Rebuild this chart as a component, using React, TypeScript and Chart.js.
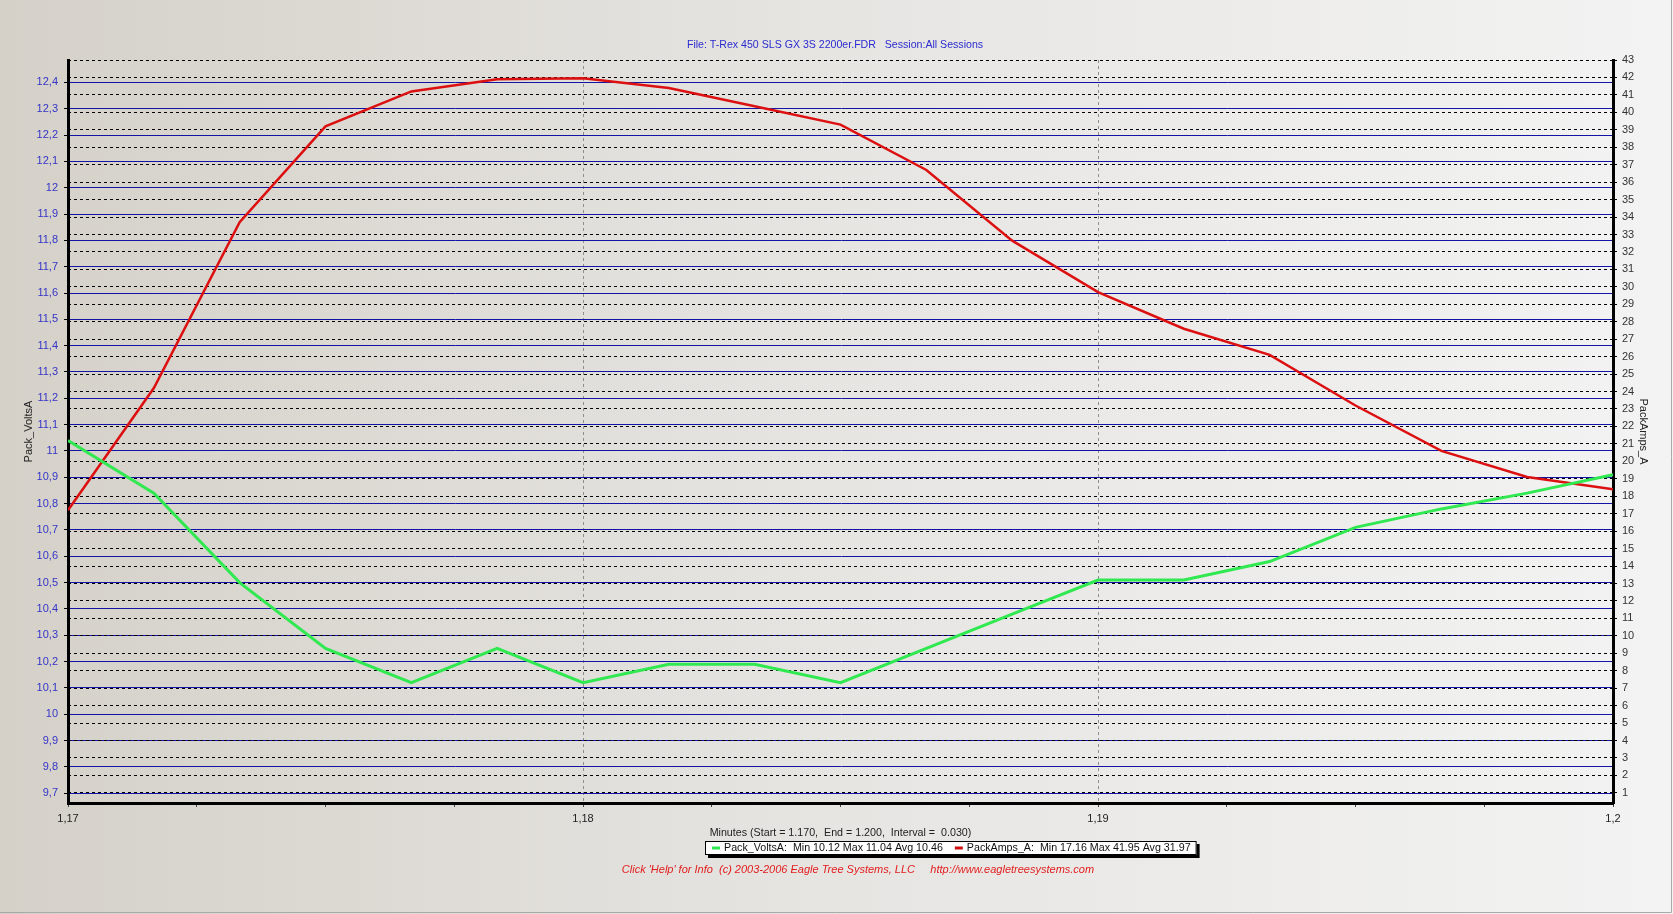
import React, { useEffect, useRef } from "react";
import { Chart, registerables } from "chart.js";

Chart.register(...registerables);

// ---- data ----
const minutes = [
  1.17, 1.171667, 1.173333, 1.175, 1.176667, 1.178333, 1.18, 1.181667, 1.183333, 1.185,
  1.186667, 1.188333, 1.19, 1.191667, 1.193333, 1.195, 1.196667, 1.198333, 1.2,
];
const packVoltsA = [
  11.04, 10.84, 10.5, 10.25, 10.12, 10.25, 10.12, 10.19, 10.19, 10.12,
  10.25, 10.38, 10.51, 10.51, 10.58, 10.71, 10.78, 10.84, 10.91,
];
const packAmpsA = [
  17.2, 24.2, 33.7, 39.2, 41.2, 41.9, 41.95, 41.4, 40.35, 39.3,
  36.7, 32.65, 29.7, 27.6, 26.1, 23.2, 20.6, 19.1, 18.4,
];
const voltsTicks = [
  9.7, 9.8, 9.9, 10, 10.1, 10.2, 10.3, 10.4, 10.5, 10.6, 10.7, 10.8, 10.9, 11, 11.1,
  11.2, 11.3, 11.4, 11.5, 11.6, 11.7, 11.8, 11.9, 12, 12.1, 12.2, 12.3, 12.4,
];
const ampsTicks = [
  1, 2, 3, 4, 5, 6, 7, 8, 9, 10, 11, 12, 13, 14, 15, 16, 17, 18, 19, 20, 21, 22,
  23, 24, 25, 26, 27, 28, 29, 30, 31, 32, 33, 34, 35, 36, 37, 38, 39, 40, 41, 42, 43,
];
const minuteTicks = [1.17, 1.18, 1.19, 1.2];
const minuteMinorStep = 0.0025;
const voltsRange = [9.663, 12.485];
const ampsRange = [0.42, 43];
const voltsStats = [10.12, 11.04, 10.46];
const ampsStats = [17.16, 41.95, 31.97];

const titleText = "File: T-Rex 450 SLS GX 3S 2200er.FDR   Session:All Sessions";
const xTitleText = "Minutes (Start = 1.170,  End = 1.200,  Interval =  0.030)";
const footerText =
  "Click 'Help' for Info  (c) 2003-2006 Eagle Tree Systems, LLC     http://www.eagletreesystems.com";

const FAMILY = '"Liberation Sans", Arial, Helvetica, sans-serif';
const W = 1673;
const H = 914;

const fmtComma = (v: number) => String(parseFloat(Number(v).toFixed(4))).replace(".", ",");
const isMajorMinute = (v: any) =>
  typeof v === "number" && minuteTicks.some((m) => Math.abs(m - v) < 1e-6);

const backgroundPlugin = {
  id: "bgGradient",
  beforeDraw(chart: any) {
    const ctx = chart.ctx;
    ctx.save();
    const g = ctx.createLinearGradient(0, 0, chart.width, 0);
    g.addColorStop(0, "#d5d1c9");
    g.addColorStop(0.5, "#e6e5e2");
    g.addColorStop(1, "#f3f3f3");
    ctx.fillStyle = g;
    ctx.fillRect(0, 0, chart.width, chart.height);
    ctx.restore();
  },
};

const textPlugin = {
  id: "eagleTexts",
  afterDraw(chart: any) {
    const ctx = chart.ctx;
    ctx.save();
    // main title
    ctx.font = `10.6px ${FAMILY}`;
    ctx.fillStyle = "#2b2bd0";
    ctx.textAlign = "center";
    ctx.textBaseline = "middle";
    ctx.fillText(titleText, 835, 45);

    // legend box
    const t1 = `Pack_VoltsA:  Min ${voltsStats[0].toFixed(2)} Max ${voltsStats[1].toFixed(2)} Avg ${voltsStats[2].toFixed(2)}`;
    const t2 = `PackAmps_A:  Min ${ampsStats[0].toFixed(2)} Max ${ampsStats[1].toFixed(2)} Avg ${ampsStats[2].toFixed(2)}`;
    ctx.font = `10.7px ${FAMILY}`;
    const w1 = ctx.measureText(t1).width;
    const w2 = ctx.measureText(t2).width;
    const bx = 705;
    const by = 841;
    const bh = 14;
    const bw = 7 + 8 + 4 + w1 + 12 + 8 + 4 + w2 + 6;
    ctx.fillStyle = "#000";
    ctx.fillRect(bx + 3, by + 3, bw, bh);
    ctx.fillStyle = "#ffffff";
    ctx.fillRect(bx, by, bw, bh);
    ctx.strokeStyle = "#000";
    ctx.lineWidth = 1;
    ctx.strokeRect(bx + 0.5, by + 0.5, bw - 1, bh - 1);
    let cx = bx + 7;
    const cy = by + bh / 2;
    ctx.lineWidth = 3;
    ctx.strokeStyle = "#30e850";
    ctx.beginPath();
    ctx.moveTo(cx, cy);
    ctx.lineTo(cx + 8, cy);
    ctx.stroke();
    cx += 12;
    ctx.fillStyle = "#111";
    ctx.textAlign = "left";
    ctx.fillText(t1, cx, cy + 0.5);
    cx += w1 + 12;
    ctx.strokeStyle = "#d01010";
    ctx.beginPath();
    ctx.moveTo(cx, cy);
    ctx.lineTo(cx + 8, cy);
    ctx.stroke();
    cx += 12;
    ctx.fillText(t2, cx, cy + 0.5);

    // footer
    ctx.font = `italic 11px ${FAMILY}`;
    ctx.fillStyle = "#e21c1c";
    ctx.textAlign = "center";
    ctx.fillText(footerText, 858, 870);

    // outer frame edges
    ctx.strokeStyle = "#a9a9a9";
    ctx.lineWidth = 1;
    ctx.beginPath();
    ctx.moveTo(W - 1.5, 0);
    ctx.lineTo(W - 1.5, H - 1.5);
    ctx.lineTo(0, H - 1.5);
    ctx.stroke();
    ctx.restore();
  },
};

export default function App() {
  const canvasRef = useRef<HTMLCanvasElement | null>(null);

  useEffect(() => {
    const canvas = canvasRef.current;
    if (!canvas) return;
    const font = { family: FAMILY, size: 11 };
    const chart = new Chart(canvas, {
      type: "line",
      data: {
        datasets: [
          {
            label: "Pack_VoltsA",
            data: minutes.map((m, i) => ({ x: m, y: packVoltsA[i] })),
            borderColor: "#30e850",
            borderWidth: 3,
            pointRadius: 0,
            tension: 0,
            yAxisID: "y",
          },
          {
            label: "PackAmps_A",
            data: minutes.map((m, i) => ({ x: m, y: packAmpsA[i] })),
            borderColor: "#dc1010",
            borderWidth: 2.5,
            pointRadius: 0,
            tension: 0,
            yAxisID: "y1",
          },
        ],
      },
      options: {
        responsive: false,
        maintainAspectRatio: false,
        animation: false,
        layout: { padding: { top: 60, left: 0, right: 0, bottom: 0 } },
        plugins: {
          legend: { display: false },
          tooltip: { enabled: false },
          title: { display: false },
        },
        scales: {
          x: {
            type: "linear",
            min: minuteTicks[0],
            max: minuteTicks[minuteTicks.length - 1],
            afterBuildTicks: (s: any) => {
              const t: any[] = [];
              const first = minuteTicks[0];
              const last = minuteTicks[minuteTicks.length - 1];
              const n = Math.round((last - first) / minuteMinorStep);
              for (let k = 0; k <= n; k++) t.push({ value: parseFloat((first + k * minuteMinorStep).toFixed(5)) });
              s.ticks = t;
            },
            ticks: {
              autoSkip: false,
              maxRotation: 0,
              color: "#222",
              font,
              padding: 5,
              callback: (v: any) => (isMajorMinute(v) ? fmtComma(v) : ""),
            },
            grid: {
              color: (c: any) => (isMajorMinute(c.tick?.value) ? "#8e8e8e" : "rgba(0,0,0,0)"),
              lineWidth: 1,
              tickColor: "#444",
              tickLength: 4,
              tickBorderDash: [],
            },
            border: { display: true, color: "#000", width: 3, dash: [3, 3] },
            title: {
              display: true,
              text: xTitleText,
              color: "#222",
              font: { family: FAMILY, size: 10.7 },
              padding: { top: 0, bottom: 75 },
            },
            afterFit: (s: any) => {
              s.height = 111;
            },
          },
          y: {
            type: "linear",
            position: "left",
            min: voltsRange[0],
            max: voltsRange[1],
            afterBuildTicks: (s: any) => {
              s.ticks = voltsTicks.map((v) => ({ value: v }));
            },
            ticks: { color: "#3434c8", font, padding: 6, callback: (v: any) => fmtComma(v) },
            grid: { color: "#1414a4", lineWidth: 1, tickColor: "#000", tickLength: 4, tickBorderDash: [] },
            border: { display: true, color: "#000", width: 3 },
            title: {
              display: true,
              text: "Pack_VoltsA",
              color: "#222",
              font,
              padding: { top: 22, bottom: 0 },
            },
            afterFit: (s: any) => {
              s.width = 68;
            },
          },
          y1: {
            type: "linear",
            position: "right",
            min: ampsRange[0],
            max: ampsRange[1],
            afterBuildTicks: (s: any) => {
              s.ticks = ampsTicks.map((v) => ({ value: v }));
            },
            ticks: { color: "#333", font, padding: 5, callback: (v: any) => String(v) },
            grid: { color: "#000", lineWidth: 1, tickColor: "#000", tickLength: 4, tickBorderDash: [] },
            border: { display: true, color: "#000", width: 3, dash: [3, 3] },
            title: {
              display: true,
              text: "PackAmps_A",
              color: "#222",
              font,
              padding: { top: 23, bottom: 0 },
            },
            afterFit: (s: any) => {
              s.width = 60;
            },
          },
        },
      } as any,
      plugins: [backgroundPlugin, textPlugin],
    });
    return () => chart.destroy();
  }, []);

  return (
    <div style={{ position: "fixed", left: 0, top: 0, width: W, height: H, overflow: "hidden" }}>
      <canvas ref={canvasRef} width={W} height={H} style={{ display: "block", width: W, height: H }} />
    </div>
  );
}
